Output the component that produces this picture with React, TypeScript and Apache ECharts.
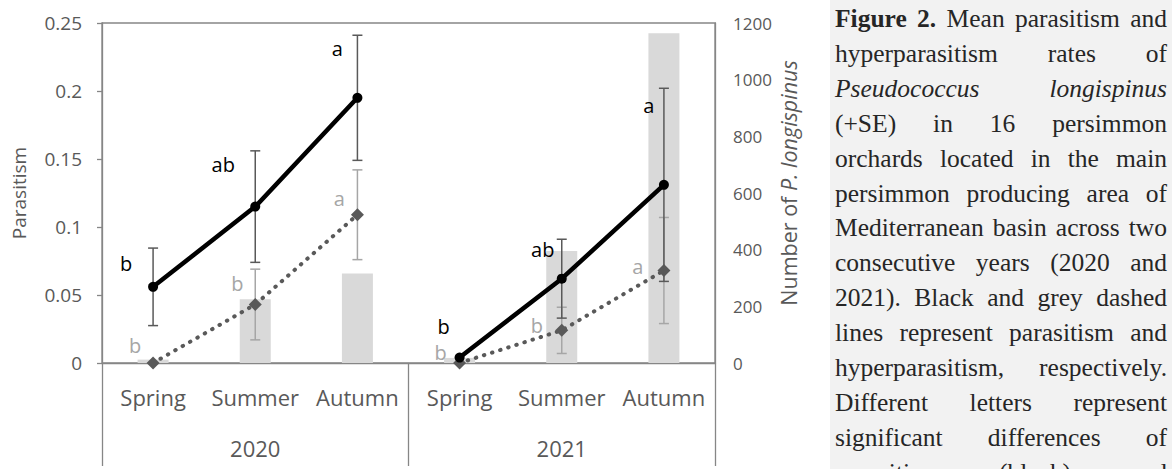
import React, { useEffect, useRef } from "react";
import * as echarts from "echarts";

// ---------- data ----------
const seasons = ["Spring", "Summer", "Autumn", "Spring", "Summer", "Autumn"];
const years = ["2020", "2021"];
const parasitism = [0.056, 0.115, 0.195, 0.004, 0.062, 0.131];
const parasitismSE = [0.0285, 0.041, 0.046, 0, 0.029, 0.071];
const hyperparasitism = [0, 0.043, 0.109, 0, 0.024, 0.068];
const hyperparasitismSE = [0, 0.026, 0.033, 0, 0.017, 0.039];
const mealybugCount = [12, 225, 316, 18, 395, 1164];
const parLetters = ["b", "ab", "a", "b", "ab", "a"];
const hypLetters = ["b", "b", "a", "b", "b", "a"];
// letter anchor heights (in parasitism units)
const parLetterY = [0.0735, 0.1456, 0.2316, 0.0265, 0.0831, 0.1897];
const hypLetterY = [0.0132, 0.0586, 0.1206, 0.0074, 0.0279, 0.0713];
const leftTicks = { min: 0, max: 0.25, interval: 0.05 };
const rightTicks = { min: 0, max: 1200, interval: 200 };

const captionLines = [
  "**Figure** **2.** Mean parasitism and",
  "hyperparasitism rates of",
  "*Pseudococcus* *longispinus*",
  "(+SE) in 16 persimmon",
  "orchards located in the main",
  "persimmon producing area of",
  "Mediterranean basin across two",
  "consecutive years (2020 and",
  "2021). Black and grey dashed",
  "lines represent parasitism and",
  "hyperparasitism, respectively.",
  "Different letters represent",
  "significant differences of",
  "parasitism (black) and",
];

// ---------- layout / style ----------
const SANS = '"Open Sans", "Noto Sans", sans-serif';
const SERIF = '"Liberation Serif", "Times New Roman", serif';
const AXIS_COLOR = "#868686";
const LABEL_COLOR = "#595959";
const parLetterDx = [-27, -32, -20, -16, -19, -15];
const hypLetterDx = [-18, -18, -18, -19, -25, -26];

function buildCaption(): any[] {
  const els: any[] = [];
  els.push({
    type: "rect",
    shape: { x: 830, y: 0, width: 342, height: 469 },
    style: { fill: "#f2f2f2" },
    z: -10,
  });
  const canvas = document.createElement("canvas");
  const ctx = canvas.getContext("2d")!;
  const size = 25.5;
  const left = 835;
  const width = 332;
  const lineH = 34.9;
  const y0 = 18.5;
  captionLines.forEach((line, li) => {
    const words = line.split(" ").map((w) => {
      let bold = false;
      let italic = false;
      let t = w;
      if (t.startsWith("**")) {
        bold = true;
        t = t.slice(2, -2);
      } else if (t.startsWith("*")) {
        italic = true;
        t = t.slice(1, -1);
      }
      ctx.font = `${italic ? "italic" : "normal"} ${bold ? "bold" : "normal"} ${size}px ${SERIF}`;
      return { t, bold, italic, w: ctx.measureText(t).width };
    });
    const total = words.reduce((s, w) => s + w.w, 0);
    const gap = words.length > 1 ? (width - total) / (words.length - 1) : 0;
    let x = left;
    const y = y0 + li * lineH;
    words.forEach((w) => {
      els.push({
        type: "text",
        x,
        y,
        style: {
          text: w.t,
          fill: "#262626",
          fontSize: size,
          fontFamily: SERIF,
          fontWeight: w.bold ? "bold" : "normal",
          fontStyle: w.italic ? "italic" : "normal",
          align: "left",
          verticalAlign: "middle",
        },
      });
      x += w.w + gap;
    });
  });
  // axis titles
  els.push({
    type: "text",
    x: 18.5,
    y: 193,
    rotation: Math.PI / 2,
    style: {
      text: "Parasitism",
      fontSize: 19,
      fontFamily: SANS,
      fill: LABEL_COLOR,
      align: "center",
      verticalAlign: "middle",
    },
  });
  els.push({
    type: "text",
    x: 788,
    y: 183,
    rotation: Math.PI / 2,
    style: {
      text: "{n|Number of }{i|P. longispinus}",
      align: "center",
      verticalAlign: "middle",
      rich: {
        n: { fontSize: 21.5, fontFamily: SANS, fill: LABEL_COLOR, color: LABEL_COLOR },
        i: { fontSize: 21.5, fontFamily: SANS, fill: LABEL_COLOR, color: LABEL_COLOR, fontStyle: "italic" },
      },
    },
  });
  return els;
}

function errorBarSeries(values: number[], se: number[], color: string, z: number) {
  const data = values
    .map((v, i) => [i, v - se[i], v + se[i], se[i]])
    .filter((d) => d[3] > 0);
  return {
    type: "custom",
    xAxisIndex: 0,
    yAxisIndex: 0,
    z,
    silent: true,
    data,
    renderItem: (params: any, api: any) => {
      const i = api.value(0);
      const lo = api.coord([i, api.value(1)]);
      const hi = api.coord([i, api.value(2)]);
      const x = hi[0];
      const w = 5;
      const st = { stroke: color, lineWidth: 1.5 };
      return {
        type: "group",
        children: [
          { type: "line", shape: { x1: x, y1: hi[1], x2: x, y2: lo[1] }, style: st },
          { type: "line", shape: { x1: x - w, y1: hi[1], x2: x + w, y2: hi[1] }, style: st },
          { type: "line", shape: { x1: x - w, y1: lo[1], x2: x + w, y2: lo[1] }, style: st },
        ],
      };
    },
  };
}

function letterSeries(letters: string[], ys: number[], dx: number[], color: string) {
  return {
    type: "custom",
    xAxisIndex: 0,
    yAxisIndex: 0,
    z: 10,
    silent: true,
    data: ys.map((v, i) => [i, v]),
    renderItem: (params: any, api: any) => {
      const i = params.dataIndex;
      const p = api.coord([api.value(0), api.value(1)]);
      return {
        type: "text",
        x: p[0] + dx[i],
        y: p[1],
        style: {
          text: letters[i],
          fill: color,
          fontSize: 20,
          fontFamily: SANS,
          align: "center",
          verticalAlign: "middle",
        },
      };
    },
  };
}

function lineSeries(values: number[], yearIdx: number, kind: "par" | "hyp") {
  const data = values.map((v, i) => (Math.floor(i / 3) === yearIdx ? v : "-"));
  if (kind === "par") {
    return {
      type: "line",
      name: "Parasitism",
      xAxisIndex: 0,
      yAxisIndex: 0,
      z: 8,
      data,
      symbol: "circle",
      symbolSize: 10,
      itemStyle: { color: "#000" },
      lineStyle: { color: "#000", width: 4.5 },
    };
  }
  return {
    type: "line",
    name: "Hyperparasitism",
    xAxisIndex: 0,
    yAxisIndex: 0,
    z: 6,
    data,
    symbol: "diamond",
    symbolSize: 13,
    itemStyle: { color: "#595959" },
    lineStyle: { color: "#595959", width: 4, type: [0.5, 8], cap: "round" },
  };
}

function buildOption(): any {
  return {
    animation: false,
    textStyle: { fontFamily: SANS },
    grid: {
      left: 102,
      right: 461,
      top: 23,
      bottom: 106,
      show: true,
      borderColor: AXIS_COLOR,
      borderWidth: 1.3,
      backgroundColor: "transparent",
    },
    xAxis: [
      {
        type: "category",
        data: seasons,
        position: "bottom",
        boundaryGap: true,
        axisLine: { show: true, lineStyle: { color: AXIS_COLOR, width: 1.3 } },
        axisTick: { show: false },
        axisLabel: { interval: 0, fontSize: 22, color: LABEL_COLOR, margin: 23, fontFamily: SANS },
        splitLine: { show: false },
      },
      {
        type: "category",
        data: years,
        position: "bottom",
        boundaryGap: true,
        axisLine: { show: false },
        axisTick: { show: true, interval: 0, length: 103, lineStyle: { color: AXIS_COLOR, width: 1.3 } },
        axisLabel: { interval: 0, fontSize: 22, color: LABEL_COLOR, margin: 74, fontFamily: SANS },
        splitLine: { show: false },
      },
    ],
    yAxis: [
      {
        type: "value",
        position: "left",
        ...leftTicks,
        axisLine: { show: true, lineStyle: { color: AXIS_COLOR, width: 1.3 } },
        axisTick: { show: true, length: 5, lineStyle: { color: AXIS_COLOR, width: 1.3 } },
        axisLabel: { fontSize: 19, color: LABEL_COLOR, margin: 20, fontFamily: SANS },
        splitLine: { show: false },
      },
      {
        type: "value",
        position: "right",
        ...rightTicks,
        axisLine: { show: true, lineStyle: { color: AXIS_COLOR, width: 1.3 } },
        axisTick: { show: false },
        axisLabel: {
          fontSize: 17,
          color: LABEL_COLOR,
          margin: 18,
          fontFamily: SANS,
          formatter: (v: number) => String(v),
        },
        splitLine: { show: false },
      },
    ],
    series: [
      {
        type: "bar",
        name: "Number of P. longispinus",
        xAxisIndex: 0,
        yAxisIndex: 1,
        z: 1,
        barWidth: 31,
        itemStyle: { color: "#d9d9d9" },
        data: mealybugCount,
      },
      errorBarSeries(hyperparasitism, hyperparasitismSE, "#a6a6a6", 3),
      lineSeries(hyperparasitism, 0, "hyp"),
      lineSeries(hyperparasitism, 1, "hyp"),
      errorBarSeries(parasitism, parasitismSE, "#595959", 7),
      lineSeries(parasitism, 0, "par"),
      lineSeries(parasitism, 1, "par"),
      letterSeries(hypLetters, hypLetterY, hypLetterDx, "#a6a6a6"),
      letterSeries(parLetters, parLetterY, parLetterDx, "#000"),
    ],
    graphic: buildCaption(),
  };
}

export default function App() {
  const ref = useRef<HTMLDivElement>(null);
  useEffect(() => {
    document.body.style.margin = "0";
    const chart = echarts.init(ref.current!, null, { renderer: "svg" });
    chart.setOption(buildOption());
    return () => chart.dispose();
  }, []);
  return <div ref={ref} style={{ width: 1176, height: 469, overflow: "hidden" }} />;
}
